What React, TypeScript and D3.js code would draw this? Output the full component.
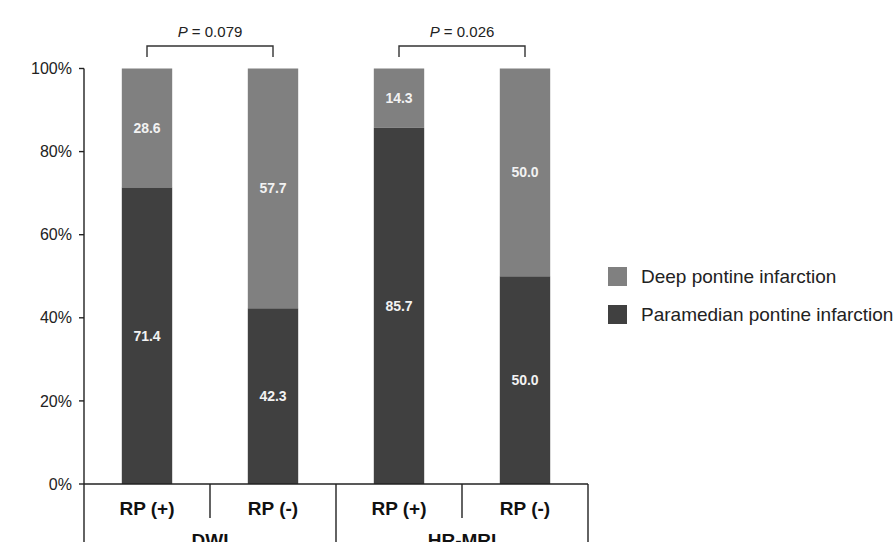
import React from 'react'
import * as d3 from 'd3'

// data
const categories = ['RP (+)', 'RP (-)', 'RP (+)', 'RP (-)']
const groups = ['DWI', 'HR-MRI']
const paramedian = [71.4, 42.3, 85.7, 50.0]
const deep = [28.6, 57.7, 14.3, 50.0]
const yTicks = [0, 20, 40, 60, 80, 100]
const pValues = ['0.079', '0.026']
const seriesNames = ['Deep pontine infarction', 'Paramedian pontine infarction']

const W = 893
const H = 542
const margin = { top: 68.5, left: 84, right: 305, bottom: 58 }
const DARK = '#404040'
const LIGHT = '#808080'
const FONT = 'Liberation Sans, Arial, sans-serif'

const App = () => {
  const idx = d3.range(categories.length)
  const x = d3.scaleBand<number>()
    .domain(idx)
    .range([margin.left, W - margin.right])
    .paddingInner(0.6)
    .paddingOuter(0.3)
  const y = d3.scaleLinear()
    .domain([0, 100])
    .range([H - margin.bottom, margin.top])

  const step = x.step()
  const x0 = margin.left
  const x1 = W - margin.right
  const y0 = y(0)
  const center = (i: number) => (x(i) as number) + x.bandwidth() / 2

  const stacked = d3.stack<number>()
    .keys(['paramedian', 'deep'])
    .value((i, key) => (key === 'paramedian' ? paramedian[i] : deep[i]))(idx)
  const colors = [DARK, LIGHT]

  return (
    <svg width={W} height={H} style={{ position: 'absolute', left: 0, top: 0, background: '#fff' }}
      fontFamily={FONT}>
      {/* bars */}
      {stacked.map((s, si) => (
        <g key={s.key} fill={colors[si]}>
          {s.map((d, i) => (
            <g key={i}>
              <rect x={x(i)} y={y(d[1])} width={x.bandwidth()} height={y(d[0]) - y(d[1])} />
              <text x={center(i)} y={(y(d[0]) + y(d[1])) / 2} dy="0.35em" textAnchor="middle"
                fill="#f2f2f2" fontWeight="bold" fontSize={14}>
                {(d[1] - d[0]).toFixed(1)}
              </text>
            </g>
          ))}
        </g>
      ))}

      {/* y axis */}
      <line x1={x0} x2={x0} y1={y(100)} y2={H} stroke="#222" strokeWidth={1.4} />
      {yTicks.map(t => (
        <g key={t}>
          <line x1={x0 - 5} x2={x0} y1={y(t)} y2={y(t)} stroke="#222" strokeWidth={1.4} />
          <text x={x0 - 12} y={y(t)} dy="0.35em" textAnchor="end" fontSize={16} fill="#222">{t}%</text>
        </g>
      ))}

      {/* x axis with category table */}
      <line x1={x0} x2={x1} y1={y0} y2={y0} stroke="#222" strokeWidth={1.4} />
      {idx.map(i => (
        <text key={i} x={center(i)} y={515} textAnchor="middle" fontSize={19} fontWeight="bold" fill="#111">
          {categories[i]}
        </text>
      ))}
      {[1, 3].map(k => (
        <line key={k} x1={x0 + k * step} x2={x0 + k * step} y1={y0} y2={518} stroke="#222" strokeWidth={1.4} />
      ))}
      {[2, 4].map(k => (
        <line key={k} x1={x0 + k * step} x2={x0 + k * step} y1={y0} y2={H} stroke="#222" strokeWidth={1.4} />
      ))}
      {/* group row is clipped by the frame bottom, as in the source figure */}
      {groups.map((g, gi) => (
        <text key={g} x={x0 + (gi * 2 + 1) * step} y={547} textAnchor="middle" fontSize={19}
          fontWeight="bold" fill="#111">{g}</text>
      ))}

      {/* p-value brackets */}
      {pValues.map((p, gi) => {
        const a = center(gi * 2)
        const b = center(gi * 2 + 1)
        return (
          <g key={p}>
            <path d={`M${a},57V46H${b}V57`} fill="none" stroke="#333" strokeWidth={1.4} />
            <text x={(a + b) / 2} y={37} textAnchor="middle" fontSize={15} fill="#222">
              <tspan fontStyle="italic">P</tspan> = {p}
            </text>
          </g>
        )
      })}

      {/* legend */}
      {seriesNames.map((n, i) => (
        <g key={n} transform={`translate(608,${267 + i * 38})`}>
          <rect width={19} height={19} fill={i === 0 ? LIGHT : DARK} />
          <text x={33} y={9.5} dy="0.35em" fontSize={19} fill="#222">{n}</text>
        </g>
      ))}
    </svg>
  )
}

export default App
